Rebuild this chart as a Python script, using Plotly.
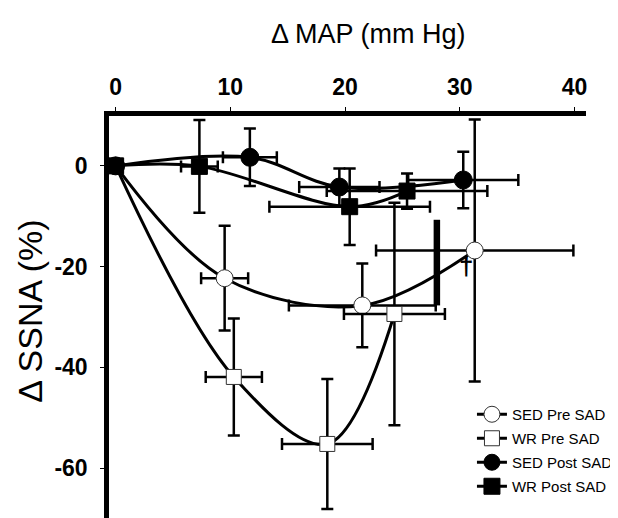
import plotly.graph_objects as go

# ---- data ----
series_names = ["SED Pre SAD", "WR Pre SAD", "SED Post SAD", "WR Post SAD"]

sed_pre_x = [0, 9.5, 21.5, 31.3]
sed_pre_y = [0, -22.3, -27.7, -16.8]
sed_pre_xerr = [0, 2.05, 6.4, 8.6]
sed_pre_yerr = [0, 10.4, 8.3, 26.0]

wr_pre_x = [0, 10.3, 18.45, 24.3]
wr_pre_y = [0, -41.9, -55.2, -29.4]
wr_pre_xerr = [0, 2.45, 3.95, 4.4]
wr_pre_yerr = [0, 11.6, 12.9, 22.1]

sed_post_x = [0, 11.7, 19.5, 30.3]
sed_post_y = [0, 1.7, -4.2, -2.8]
sed_post_xerr = [0, 2.35, 3.5, 4.8]
sed_post_yerr = [0, 5.7, 3.7, 5.6]

wr_post_x = [0, 7.3, 20.4, 25.4]
wr_post_y = [0, -0.1, -8.1, -5.0]
wr_post_xerr = [0, 1.6, 7.0, 7.0]
wr_post_yerr = [0, 9.2, 7.6, 3.5]

x_ticks = [0, 10, 20, 30, 40]
x_tick_labels = ["0", "10", "20", "30", "40"]
y_ticks = [0, -20, -40, -60]
y_tick_labels = ["0", "-20", "-40", "-60"]

sig_bar_x = [28.0, 28.0]
sig_bar_y = [-10.7, -27.7]
dagger_x = 30.5
dagger_y = -19.9

FONT = "Liberation Sans, Arial, sans-serif"

series = [
    (series_names[0], sed_pre_x, sed_pre_y, sed_pre_xerr, sed_pre_yerr, "circle", "white", 17),
    (series_names[1], wr_pre_x, wr_pre_y, wr_pre_xerr, wr_pre_yerr, "square", "white", 15),
    (series_names[2], sed_post_x, sed_post_y, sed_post_xerr, sed_post_yerr, "circle", "black", 18),
    (series_names[3], wr_post_x, wr_post_y, wr_post_xerr, wr_post_yerr, "square", "black", 16),
]

fig = go.Figure()
for i, (name, xs, ys, xe, ye, sym, fill, size) in enumerate(series):
    fig.add_trace(go.Scatter(
        x=xs, y=ys, name=name, mode="lines+markers", legendgroup=f"g{i}",
        line=dict(color="black", width=3, shape="spline", smoothing=1),
        marker=dict(symbol=sym, size=size, color=fill,
                    line=dict(color="#333" if fill == "white" else "black", width=1)),
        error_x=dict(type="data", array=xe, color="black", thickness=2.5, width=6),
        error_y=dict(type="data", array=ye, color="black", thickness=2.5, width=6),
    ))

fig.add_trace(go.Scatter(x=sig_bar_x, y=sig_bar_y, mode="lines",
                         line=dict(color="black", width=6.5), showlegend=False,
                         hoverinfo="skip"))

# page body has an 8px margin: lay out in figure coords = reference px - 8
L, R, T, H, W = 101, 28, 108, 510, 610
PW = W - L - R
PH = H - T


def px(xr):
    return (xr - 8 - L) / PW


def py(yr):
    return (H - (yr - 8)) / PH


fig.update_layout(
    width=W, height=H,
    margin=dict(l=L, r=R, t=T, b=0, pad=0),
    paper_bgcolor="white", plot_bgcolor="white",
    font=dict(family=FONT, color="black"),
    showlegend=True,
    legend=dict(x=px(475), y=py(398), xanchor="left", yanchor="top",
                tracegroupgap=1.5, traceorder="grouped",
                font=dict(family=FONT, size=15, color="black"),
                bgcolor="rgba(0,0,0,0)", borderwidth=0),
    xaxis=dict(side="top", range=[-0.58, 41.0], tickvals=x_ticks, ticktext=x_tick_labels,
               showgrid=False, zeroline=False, showline=True, linecolor="black",
               linewidth=4.5, ticks="outside", ticklen=4, tickwidth=1, tickcolor="black",
               tickfont=dict(family=FONT, size=23, color="black", weight="bold"),
               ticklabelstandoff=3),
    yaxis=dict(range=[-69.9, 9.9], tickvals=y_ticks, ticktext=y_tick_labels,
               showgrid=False, zeroline=False, showline=True, linecolor="black",
               linewidth=4.5, ticks="outside", ticklen=4, tickwidth=1, tickcolor="black",
               tickfont=dict(family=FONT, size=23, color="black", weight="bold"),
               ticklabelstandoff=8),
    annotations=[
        dict(text="Δ MAP (mm Hg)", xref="paper", yref="paper",
             x=px(371), y=py(34), xanchor="center", yanchor="middle",
             showarrow=False, font=dict(family=FONT, size=27, color="black")),
        dict(text="Δ SSNA (%)", xref="paper", yref="paper",
             x=px(29), y=py(311), xanchor="center", yanchor="middle",
             textangle=-90, showarrow=False,
             font=dict(family=FONT, size=34, color="black")),
        dict(text="<b>†</b>", xref="x", yref="y", x=dagger_x, y=dagger_y,
             xanchor="center", yanchor="middle", showarrow=False,
             font=dict(family=FONT, size=26, color="black")),
    ],
)

fig.write_html("out.html")
